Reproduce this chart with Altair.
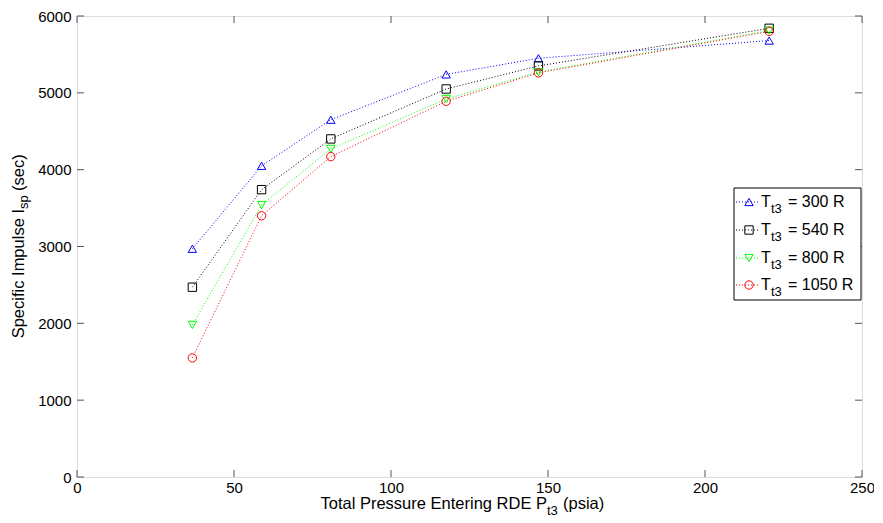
import altair as alt
import pandas as pd

# ---- data ----
pressure = [36.74, 58.78, 80.83, 117.57, 146.96, 220.44]
isp_300 = [2970, 4050, 4650, 5240, 5450, 5680]
isp_540 = [2470, 3740, 4400, 5050, 5350, 5840]
isp_800 = [1980, 3540, 4270, 4920, 5270, 5810]
isp_1050 = [1550, 3400, 4170, 4890, 5260, 5800]
series_names = ["300", "540", "800", "1050"]
colors = ["#0000ff", "#000000", "#00ff00", "#ff0000"]
shapes = ["triangle-up", "square", "triangle-down", "circle"]
x_ticks = [0, 50, 100, 150, 200, 250]
y_ticks = [0, 1000, 2000, 3000, 4000, 5000, 6000]

rows = []
for name, vals in zip(series_names, [isp_300, isp_540, isp_800, isp_1050]):
    for p, v in zip(pressure, vals):
        rows.append({"series": name, "P": p, "Isp": v})
df = pd.DataFrame(rows)

W, H = 785, 461
FONT = "Liberation Sans"
AX = "#555555"
TL = 7

xscale = alt.Scale(domain=[0, 250], nice=False, zero=False)
yscale = alt.Scale(domain=[0, 6000], nice=False)
cscale = alt.Scale(domain=series_names, range=colors)
sscale = alt.Scale(domain=series_names, range=shapes)

xaxis = alt.Axis(values=x_ticks, ticks=False, domain=False, grid=False, labelFont=FONT,
                 labelFontSize=15, labelColor="black", labelPadding=3, labelFlush=False,
                 title=None, format="d")
yaxis = alt.Axis(values=y_ticks, ticks=False, domain=False, grid=False, labelFont=FONT,
                 labelFontSize=15, labelColor="black", labelPadding=6, labelFlush=False,
                 title=None, format="d")

base = alt.Chart(df)
lines = base.mark_line(strokeDash=[1, 2], strokeWidth=1).encode(
    x=alt.X("P:Q", scale=xscale, axis=xaxis),
    y=alt.Y("Isp:Q", scale=yscale, axis=yaxis),
    color=alt.Color("series:N", scale=cscale, legend=None),
    detail="series:N",
)
points = base.mark_point(filled=False, size=70, strokeWidth=1, opacity=1).encode(
    x=alt.X("P:Q", scale=xscale, axis=xaxis),
    y=alt.Y("Isp:Q", scale=yscale, axis=yaxis),
    color=alt.Color("series:N", scale=cscale, legend=None),
    shape=alt.Shape("series:N", scale=sscale, legend=None),
)

xt = alt.Chart(pd.DataFrame({"v": x_ticks}))
yt = alt.Chart(pd.DataFrame({"v": y_ticks}))
xtick_b = xt.mark_rule(color=AX, strokeWidth=1).encode(
    x=alt.X("v:Q", scale=xscale, axis=xaxis), y=alt.value(H), y2=alt.value(H - TL))
xtick_t = xt.mark_rule(color=AX, strokeWidth=1).encode(
    x=alt.X("v:Q", scale=xscale, axis=xaxis), y=alt.value(0), y2=alt.value(TL))
ytick_l = yt.mark_rule(color=AX, strokeWidth=1).encode(
    y=alt.Y("v:Q", scale=yscale, axis=yaxis), x=alt.value(0), x2=alt.value(TL))
ytick_r = yt.mark_rule(color=AX, strokeWidth=1).encode(
    y=alt.Y("v:Q", scale=yscale, axis=yaxis), x=alt.value(W), x2=alt.value(W - TL))

one = alt.Chart(pd.DataFrame({"k": [0]}))

def txt(s, x, y, size, align="left", angle=0):
    return one.mark_text(text=s, font=FONT, fontSize=size, align=align, baseline="alphabetic",
                         angle=angle, color="black").encode(x=alt.value(x), y=alt.value(y))

layers = [lines, points, xtick_b, xtick_t, ytick_l, ytick_r]

# axis titles with subscripts
layers += [
    txt("Total Pressure Entering RDE P", 470, 493, 16.5, align="right"),
    txt("t3", 470, 499, 13),
    txt("(psia)", 486, 493, 16.5),
    txt("Specific Impulse I", -53, 193, 16.5, align="right", angle=270),
    txt("sp", -49, 193, 13, angle=270),
    txt("(sec)", -53, 175, 16.5, align="left", angle=270),
]

# legend
LX0, LX1, LY0, LY1 = 657, 784, 172, 284
layers.append(one.mark_rect(fill="white", stroke="black", strokeWidth=1).encode(
    x=alt.value(LX0), x2=alt.value(LX1), y=alt.value(LY0), y2=alt.value(LY1)))
row_y = [186, 214, 242, 269]
for name, col, shp, ry in zip(series_names, colors, shapes, row_y):
    layers.append(one.mark_rule(strokeDash=[1, 2], strokeWidth=1, color=col).encode(
        x=alt.value(659), x2=alt.value(683), y=alt.value(ry)))
    layers.append(one.mark_point(filled=False, size=70, strokeWidth=1, color=col, shape=shp,
                                 opacity=1).encode(x=alt.value(672), y=alt.value(ry)))
    layers.append(txt("T", 684, ry + 5, 16))
    layers.append(txt("t3", 694, ry + 11, 13))
    layers.append(txt("= " + name + " R", 711, ry + 5, 16))

chart = alt.layer(*layers).properties(
    width=W, height=H,
    autosize=alt.AutoSizeParams(type="none"),
    padding={"left": 69, "top": 8, "right": 12, "bottom": 45},
).configure_view(stroke=AX, strokeWidth=1).configure(background="white")

chart.save("out.html", embed_options={"renderer": "svg", "actions": False})
